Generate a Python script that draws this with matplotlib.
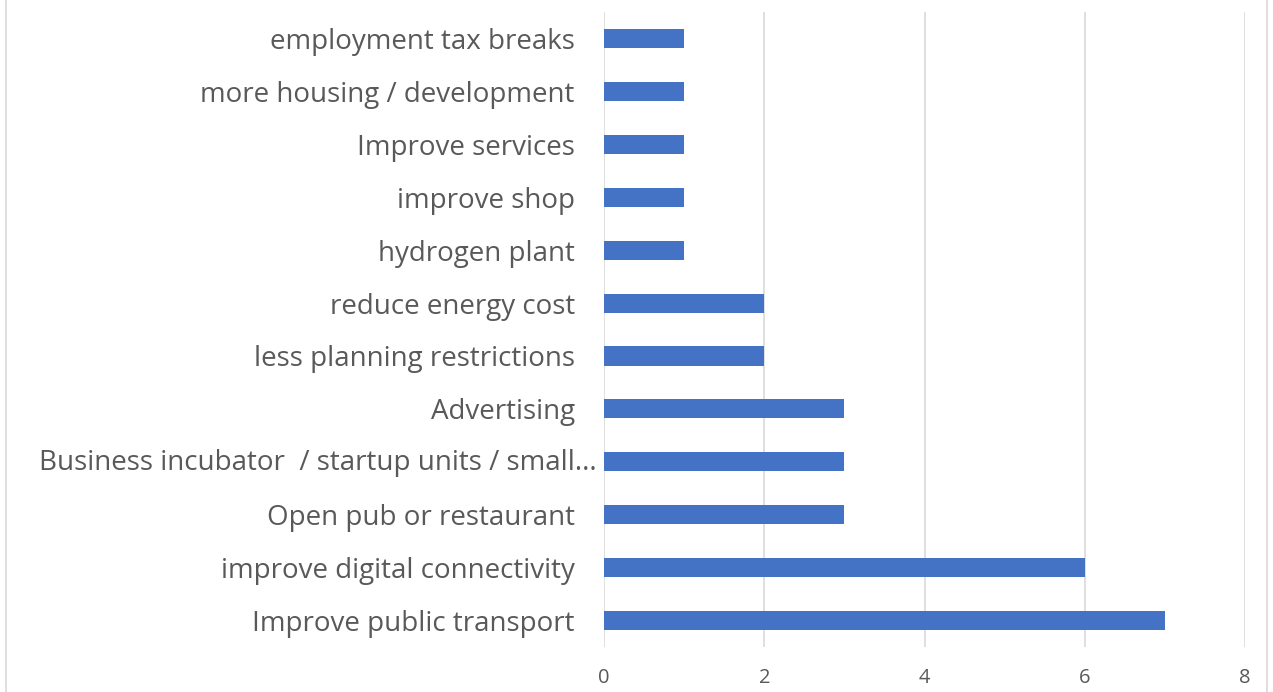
import matplotlib
matplotlib.use("Agg")
import matplotlib.pyplot as plt
import matplotlib.transforms as mtransforms
from matplotlib.patches import Rectangle

kategorie = [
    "Improve public transport",
    "improve digital connectivity",
    "Open pub or restaurant",
    "Business incubator  / startup units / small...",
    "Advertising",
    "less planning restrictions",
    "reduce energy cost",
    "hydrogen plant",
    "improve shop",
    "Improve services",
    "more housing / development",
    "employment tax breaks",
]
wartosci = [7, 6, 3, 3, 3, 2, 2, 1, 1, 1, 1, 1]
ticki_x = [0, 2, 4, 6, 8]

plt.rcParams["font.family"] = ["Open Sans", "DejaVu Sans"]

fig = plt.figure(figsize=(12.73, 6.92), dpi=100)
ax = fig.add_axes([0.4745, 0.065, 0.5035, 0.9176])

pozycje = list(range(len(kategorie)))
ax.barh(pozycje, wartosci, height=0.36, color="#4472C4", zorder=3)

ax.set_xlim(0, 8)
ax.set_ylim(-0.5, len(kategorie) - 0.5)
ax.set_xticks(ticki_x)
ax.set_xticklabels([str(t) for t in ticki_x], fontsize=14.5, color="#595959")
ax.set_yticks(pozycje)
ax.set_yticklabels(kategorie, fontsize=20, color="#595959")
ax.tick_params(axis="both", length=0)
ax.tick_params(axis="y", pad=21)
ax.tick_params(axis="x", pad=15)
ax.grid(axis="x", color="#D9D9D9", linewidth=1.2, zorder=0)
for strona in ax.spines.values():
    strona.set_visible(False)

# obcięta etykieta w Excelu wystaje bliżej osi
przesuniecie = mtransforms.ScaledTranslation(22 / 100, 2 / 100, fig.dpi_scale_trans)
etykieta = ax.get_yticklabels()[3]
etykieta.set_transform(etykieta.get_transform() + przesuniecie)

# ramka wokół całego wykresu
fig.patches.append(Rectangle((0.005, -0.01), 0.99, 1.2, transform=fig.transFigure,
                             fill=False, edgecolor="#D9D9D9", linewidth=1.2))

fig.savefig("out.png", dpi=100)
